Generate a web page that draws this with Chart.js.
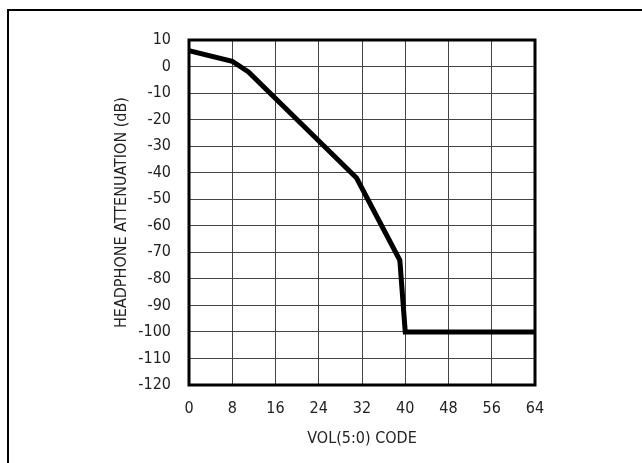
<!DOCTYPE html>
<html>
<head>
<meta charset="utf-8">
<script src="https://cdn.jsdelivr.net/npm/chart.js@4/dist/chart.umd.min.js"></script>
<style>
html,body{margin:0;padding:0;background:#fff;}
canvas{display:block;}
</style>
</head>
<body>
<canvas id="c" width="642" height="463"></canvas>
<script>
const volCodes = [0, 8, 11, 31, 39, 40, 64];
const attenuationDb = [6, 2, -2, -42, -73, -100, -100];
const xTicks = [0, 8, 16, 24, 32, 40, 48, 56, 64];
const yTicks = [10, 0, -10, -20, -30, -40, -50, -60, -70, -80, -90, -100, -110, -120];
const xTitle = 'VOL(5:0) CODE';
const yTitle = 'HEADPHONE ATTENUATION (dB)';

const FONT = "'Liberation Sans Narrow', 'DejaVu Sans Condensed', 'Arial Narrow', sans-serif";

const points = volCodes.map((x, i) => ({x: x, y: attenuationDb[i]}));

const framePlugin = {
  id: 'frames',
  beforeDraw(chart) {
    const ctx = chart.ctx;
    ctx.save();
    ctx.fillStyle = '#fff';
    ctx.fillRect(0, 0, chart.width, chart.height);
    ctx.strokeStyle = '#000';
    ctx.lineWidth = 2;
    ctx.beginPath();
    ctx.moveTo(8, chart.height);
    ctx.lineTo(8, 10);
    ctx.lineTo(chart.width, 10);
    ctx.stroke();
    ctx.restore();
  },
  afterDatasetsDraw(chart) {
    const a = chart.chartArea;
    const ctx = chart.ctx;
    ctx.save();
    ctx.strokeStyle = '#000';
    ctx.lineWidth = 3;
    ctx.strokeRect(a.left, a.top, a.right - a.left, a.bottom - a.top);
    ctx.restore();
  }
};

new Chart(document.getElementById('c'), {
  type: 'scatter',
  data: {
    datasets: [{
      data: points,
      showLine: true,
      borderColor: '#000',
      borderWidth: 5,
      pointRadius: 0,
      fill: false,
      tension: 0,
      borderJoinStyle: 'miter'
    }]
  },
  options: {
    responsive: false,
    animation: false,
    layout: { padding: { left: 112, top: 40, right: 107, bottom: 15 } },
    plugins: { legend: { display: false }, tooltip: { enabled: false } },
    scales: {
      x: {
        type: 'linear',
        min: xTicks[0],
        max: xTicks[xTicks.length - 1],
        afterBuildTicks: s => { s.ticks = xTicks.map(v => ({value: v})); },
        afterFit: s => { s.height = 63; },
        grid: { color: '#444', lineWidth: 1, drawTicks: false },
        border: { display: false },
        ticks: { color: '#222', padding: 14, maxRotation: 0, font: { family: FONT, size: 16 } },
        title: { display: true, text: xTitle, color: '#222', padding: 0, font: { family: FONT, size: 16 } }
      },
      y: {
        type: 'linear',
        min: yTicks[yTicks.length - 1],
        max: yTicks[0],
        afterBuildTicks: s => { s.ticks = yTicks.slice().reverse().map(v => ({value: v})); },
        afterFit: s => { s.width = 77; },
        grid: { color: '#444', lineWidth: 1, drawTicks: false },
        border: { display: false },
        ticks: { color: '#222', padding: 18, font: { family: FONT, size: 16 } },
        title: { display: true, text: yTitle, color: '#222', padding: 0, font: { family: FONT, size: 16 } }
      }
    }
  },
  plugins: [framePlugin]
});
</script>
</body>
</html>
